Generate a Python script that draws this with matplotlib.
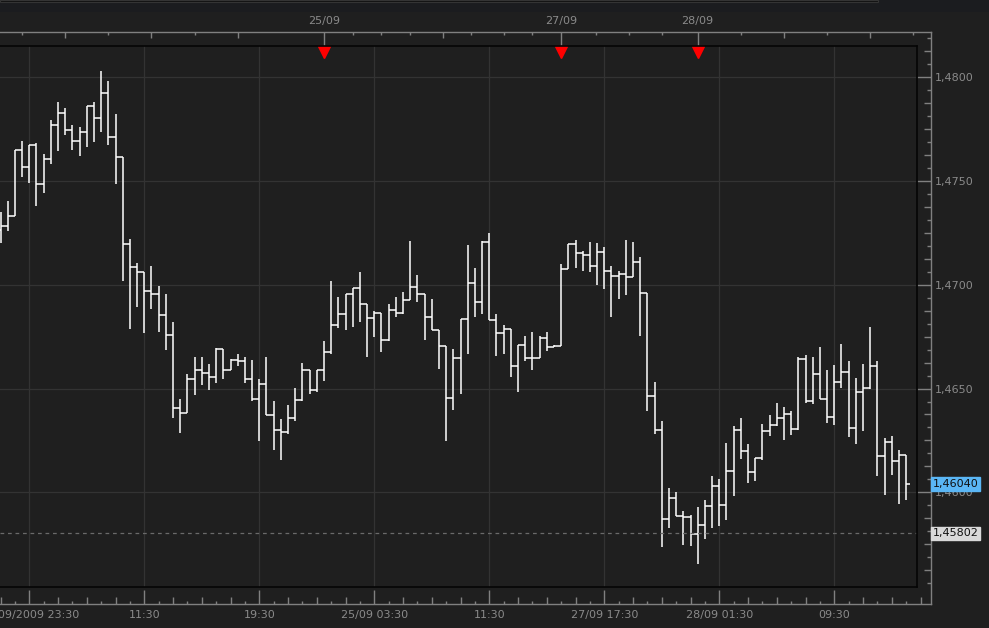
import numpy as np
import matplotlib
matplotlib.use("Agg")
from matplotlib import pyplot as plt
from matplotlib.patches import Rectangle

# 30 minute bars, OHLC (open = previous close)
first_open = 1.47264
highs = [1.47352, 1.47404, 1.47650, 1.47693, 1.47674, 1.47683, 1.47629, 1.47794, 1.47881, 1.47851,
         1.47770, 1.47760, 1.47860, 1.47881, 1.48030, 1.47982, 1.47823, 1.47617, 1.47221, 1.47104,
         1.47060, 1.47091, 1.46994, 1.46956, 1.46821, 1.46450, 1.46570, 1.46652, 1.46653, 1.46618,
         1.46695, 1.46691, 1.46641, 1.46667, 1.46652, 1.46639, 1.46547, 1.46652, 1.46440, 1.46353,
         1.46421, 1.46504, 1.46623, 1.46588, 1.46588, 1.46731, 1.47018, 1.46941, 1.46956, 1.46985,
         1.47062, 1.46909, 1.46872, 1.46863, 1.46907, 1.46941, 1.46965, 1.47211, 1.47047, 1.46954,
         1.46932, 1.46781, 1.46704, 1.46689, 1.46834, 1.47192, 1.47081, 1.47211, 1.47250, 1.46858,
         1.46806, 1.46786, 1.46710, 1.46753, 1.46773, 1.46753, 1.46773, 1.46712, 1.47100, 1.47195,
         1.47216, 1.47163, 1.47206, 1.47201, 1.47182, 1.47091, 1.47065, 1.47216, 1.47206, 1.47134,
         1.46960, 1.46530, 1.46342, 1.46019, 1.46000, 1.45908, 1.45889, 1.45929, 1.45961, 1.46077,
         1.46064, 1.46238, 1.46320, 1.46358, 1.46233, 1.46164, 1.46329, 1.46373, 1.46430, 1.46411,
         1.46392, 1.46651, 1.46662, 1.46652, 1.46700, 1.46588, 1.46615, 1.46715, 1.46631, 1.46551,
         1.46620, 1.46798, 1.46631, 1.46262, 1.46271, 1.46204, 1.46178]
lows = [1.47200, 1.47261, 1.47332, 1.47521, 1.47489, 1.47381, 1.47444, 1.47582, 1.47646, 1.47723,
        1.47651, 1.47622, 1.47666, 1.47690, 1.47738, 1.47675, 1.47487, 1.47020, 1.46789, 1.46893,
        1.46769, 1.46885, 1.46773, 1.46687, 1.46360, 1.46287, 1.46381, 1.46470, 1.46519, 1.46494,
        1.46528, 1.46547, 1.46588, 1.46610, 1.46529, 1.46439, 1.46249, 1.46371, 1.46205, 1.46157,
        1.46281, 1.46345, 1.46439, 1.46475, 1.46482, 1.46538, 1.46665, 1.46790, 1.46784, 1.46798,
        1.46819, 1.46653, 1.46750, 1.46678, 1.46728, 1.46846, 1.46858, 1.46925, 1.46919, 1.46735,
        1.46781, 1.46596, 1.46249, 1.46398, 1.46475, 1.46668, 1.46846, 1.46861, 1.46829, 1.46658,
        1.46668, 1.46557, 1.46485, 1.46631, 1.46591, 1.46646, 1.46680, 1.46698, 1.46704, 1.47075,
        1.47082, 1.47068, 1.47063, 1.47000, 1.46981, 1.46846, 1.46933, 1.46952, 1.47036, 1.46755,
        1.46393, 1.46280, 1.45738, 1.45829, 1.45884, 1.45747, 1.45743, 1.45656, 1.45776, 1.45829,
        1.45840, 1.45868, 1.45984, 1.46162, 1.46046, 1.46056, 1.46154, 1.46273, 1.46321, 1.46253,
        1.46278, 1.46300, 1.46429, 1.46427, 1.46450, 1.46335, 1.46324, 1.46504, 1.46268, 1.46234,
        1.46297, 1.46496, 1.46080, 1.45988, 1.46085, 1.45945, 1.45963]
closes = [1.47283, 1.47332, 1.47650, 1.47566, 1.47674, 1.47484, 1.47605, 1.47769, 1.47827, 1.47745,
          1.47692, 1.47735, 1.47860, 1.47802, 1.47923, 1.47711, 1.47617, 1.47197, 1.47088, 1.47060,
          1.46969, 1.46954, 1.46853, 1.46757, 1.46405, 1.46381, 1.46545, 1.46588, 1.46573, 1.46556,
          1.46691, 1.46588, 1.46636, 1.46631, 1.46545, 1.46448, 1.46522, 1.46371, 1.46299, 1.46292,
          1.46357, 1.46443, 1.46588, 1.46492, 1.46588, 1.46675, 1.46805, 1.46859, 1.46956, 1.46983,
          1.46909, 1.46839, 1.46864, 1.46733, 1.46877, 1.46863, 1.46925, 1.46989, 1.46954, 1.46843,
          1.46781, 1.46704, 1.46453, 1.46646, 1.46834, 1.47007, 1.46917, 1.47206, 1.46829, 1.46766,
          1.46786, 1.46607, 1.46710, 1.46646, 1.46646, 1.46742, 1.46699, 1.46705, 1.47075, 1.47195,
          1.47152, 1.47144, 1.47091, 1.47157, 1.47065, 1.47041, 1.47051, 1.47036, 1.47108, 1.46960,
          1.46463, 1.46299, 1.45870, 1.45973, 1.45884, 1.45880, 1.45798, 1.45841, 1.45933, 1.46029,
          1.45939, 1.46101, 1.46300, 1.46198, 1.46096, 1.46164, 1.46294, 1.46326, 1.46357, 1.46376,
          1.46304, 1.46642, 1.46439, 1.46570, 1.46450, 1.46361, 1.46530, 1.46578, 1.46308, 1.46483,
          1.46501, 1.46607, 1.46173, 1.46241, 1.46149, 1.46178, 1.46040]

time_ticks = [4, 20, 36, 52, 68, 84, 100, 116]
time_labels = ["23/09/2009 23:30", "11:30", "19:30", "25/09 03:30", "11:30",
               "27/09 17:30", "28/09 01:30", "09:30"]
day_marks = [45, 78, 97]
day_labels = ["25/09", "27/09", "28/09"]
top_tall = [9, 21, 33, 61.5, 109, 121]
top_short = [3, 15, 27, 49, 53, 57, 65.5, 70, 74, 82.8, 87.5, 92, 103, 115, 127]

last_price = 1.46040
ref_price = 1.45802

# layout in pixels
W, H = 989, 628
BAR_PX = 7.1875
PRICE_PX = 20750.0
Y_REF_PX, Y_REF = 77.3, 1.48
X0_PX = 0.5

BG = '#1f1f1f'
AXIS_GREY = '#808080'
TEXT_GREY = '#8a8a8a'


def rect(x0, y0, x1, y1):
    return [x0 / W, 1 - y1 / H, (x1 - x0) / W, (y1 - y0) / H]


def xlim_px(x0, x1):
    return ((x0 - X0_PX) / BAR_PX, (x1 - X0_PX) / BAR_PX)


def ylim_px(y0, y1):
    return (Y_REF - (y1 - Y_REF_PX) / PRICE_PX, Y_REF + (Y_REF_PX - y0) / PRICE_PX)


plt.rcParams['font.family'] = ['DejaVu Sans']
fig = plt.figure(figsize=(W / 100, H / 100), dpi=100, facecolor=BG)

# top window strip
fig.add_artist(Rectangle((0, 1 - 12 / H), 1, 12 / H, transform=fig.transFigure,
                         facecolor='#1b1c1f', edgecolor='none'))
fig.add_artist(Rectangle((0, 1 - 2 / H), 878 / W, 2 / H, transform=fig.transFigure,
                         facecolor='#111111', edgecolor='#343434', lw=0.8))

# outer scale frame
fx0, fy0, fx1, fy1 = 0, 32, 931, 604
frame = fig.add_axes(rect(fx0, fy0, fx1, fy1), facecolor='none', zorder=1)
frame.set_xlim(*xlim_px(fx0, fx1))
frame.set_ylim(*ylim_px(fy0, fy1))
frame.spines['left'].set_visible(False)
for s in ['top', 'right', 'bottom']:
    frame.spines[s].set_color(AXIS_GREY)
    frame.spines[s].set_linewidth(1)
frame.set_xticks(time_ticks, time_labels)
frame.tick_params(axis='x', direction='in', length=10, width=1, color=AXIS_GREY,
                  labelcolor=TEXT_GREY, labelsize=8, pad=4)
frame.yaxis.tick_right()
yt = np.arange(1.46, 1.4801, 0.005)
frame.set_yticks(yt, [f"{v:.4f}".replace('.', ',') for v in yt])
frame.tick_params(axis='y', direction='in', length=10, width=1, color=AXIS_GREY,
                  labelcolor=TEXT_GREY, labelsize=8, pad=3)

fw, fh = fx1 - fx0, fy1 - fy0
xt = frame.get_xaxis_transform()
yt_tr = frame.get_yaxis_transform()


def vticks(xs, length, top=False):
    if top:
        frame.vlines(xs, 1 - length / fh, 1, transform=xt, color=AXIS_GREY, lw=1, clip_on=False)
    else:
        frame.vlines(xs, 0, length / fh, transform=xt, color=AXIS_GREY, lw=1, clip_on=False)


def hticks(ys, length):
    frame.hlines(ys, 1 - length / fw, 1, transform=yt_tr, color=AXIS_GREY, lw=1, clip_on=False)


n_bars = len(closes)
x_all = np.arange(0, 130)
vticks(x_all[(x_all % 4 == 0) & ((x_all - 4) % 16 != 0)], 7)
vticks(x_all[x_all % 4 == 2], 3)
vticks(day_marks, 14, top=True)
vticks(top_tall, 6, top=True)
vticks(top_short, 3, top=True)

ylo, yhi = frame.get_ylim()
minor_y = np.arange(1.455, 1.4825, 0.000625)
minor_y = minor_y[(minor_y > ylo) & (minor_y < yhi)]
steps = np.round(minor_y / 0.000625).astype(int)
hticks(minor_y[(steps % 8 != 0) & (steps % 2 == 0)], 7)
hticks(minor_y[steps % 2 == 1], 4)

for d, lab in zip(day_marks, day_labels):
    frame.annotate(lab, xy=(d, 1), xycoords=xt, xytext=(0, 8), textcoords='offset points',
                   ha='center', va='center', color=TEXT_GREY, fontsize=8)

# price boxes on the scale
frame.text(1.0015, last_price, "1,46040", transform=yt_tr, ha='left', va='center',
           fontsize=8, color='#101010', zorder=5,
           bbox=dict(boxstyle='square,pad=0.15', facecolor='#5ab6f5', edgecolor='#5ab6f5'))
frame.text(1.0015, ref_price, "1,45802", transform=yt_tr, ha='left', va='center',
           fontsize=8, color='#101010', zorder=5,
           bbox=dict(boxstyle='square,pad=0.15', facecolor='#d9d9d9', edgecolor='#d9d9d9'))

# main plot box
px0, py0, px1, py1 = 0, 46, 917, 587
ax = fig.add_axes(rect(px0, py0, px1, py1), facecolor=BG, zorder=2)
ax.set_xlim(*xlim_px(px0, px1))
ax.set_ylim(*ylim_px(py0, py1))
ax.spines['left'].set_visible(False)
for s in ['top', 'right', 'bottom']:
    ax.spines[s].set_color('#050505')
    ax.spines[s].set_linewidth(1.2)
ax.set_xticks(time_ticks)
ax.set_yticks(yt)
ax.tick_params(length=0, labelbottom=False, labelleft=False)
ax.grid(True, color='#333333', lw=0.9)
ax.set_axisbelow(True)

x = np.arange(n_bars)
c = np.array(closes)
o = np.concatenate([[first_open], c[:-1]])
hi = np.maximum(np.array(highs), np.maximum(o, c))
lo = np.minimum(np.array(lows), np.minimum(o, c))
ax.vlines(x, lo, hi, color='white', lw=1.1)
ax.hlines(o, x - 0.5, x, color='white', lw=1.1)
ax.hlines(c, x, x + 0.5, color='white', lw=1.1)

ax.axhline(ref_price, color='#6a6a6a', lw=0.9, ls=(0, (3, 3)))

ax.plot(day_marks, [0.989] * len(day_marks), transform=ax.get_xaxis_transform(),
        ls='none', marker='v', ms=8, color='#ff0000', mec='#ff0000', clip_on=False)

fig.savefig('out.png', dpi=100, facecolor=BG)
